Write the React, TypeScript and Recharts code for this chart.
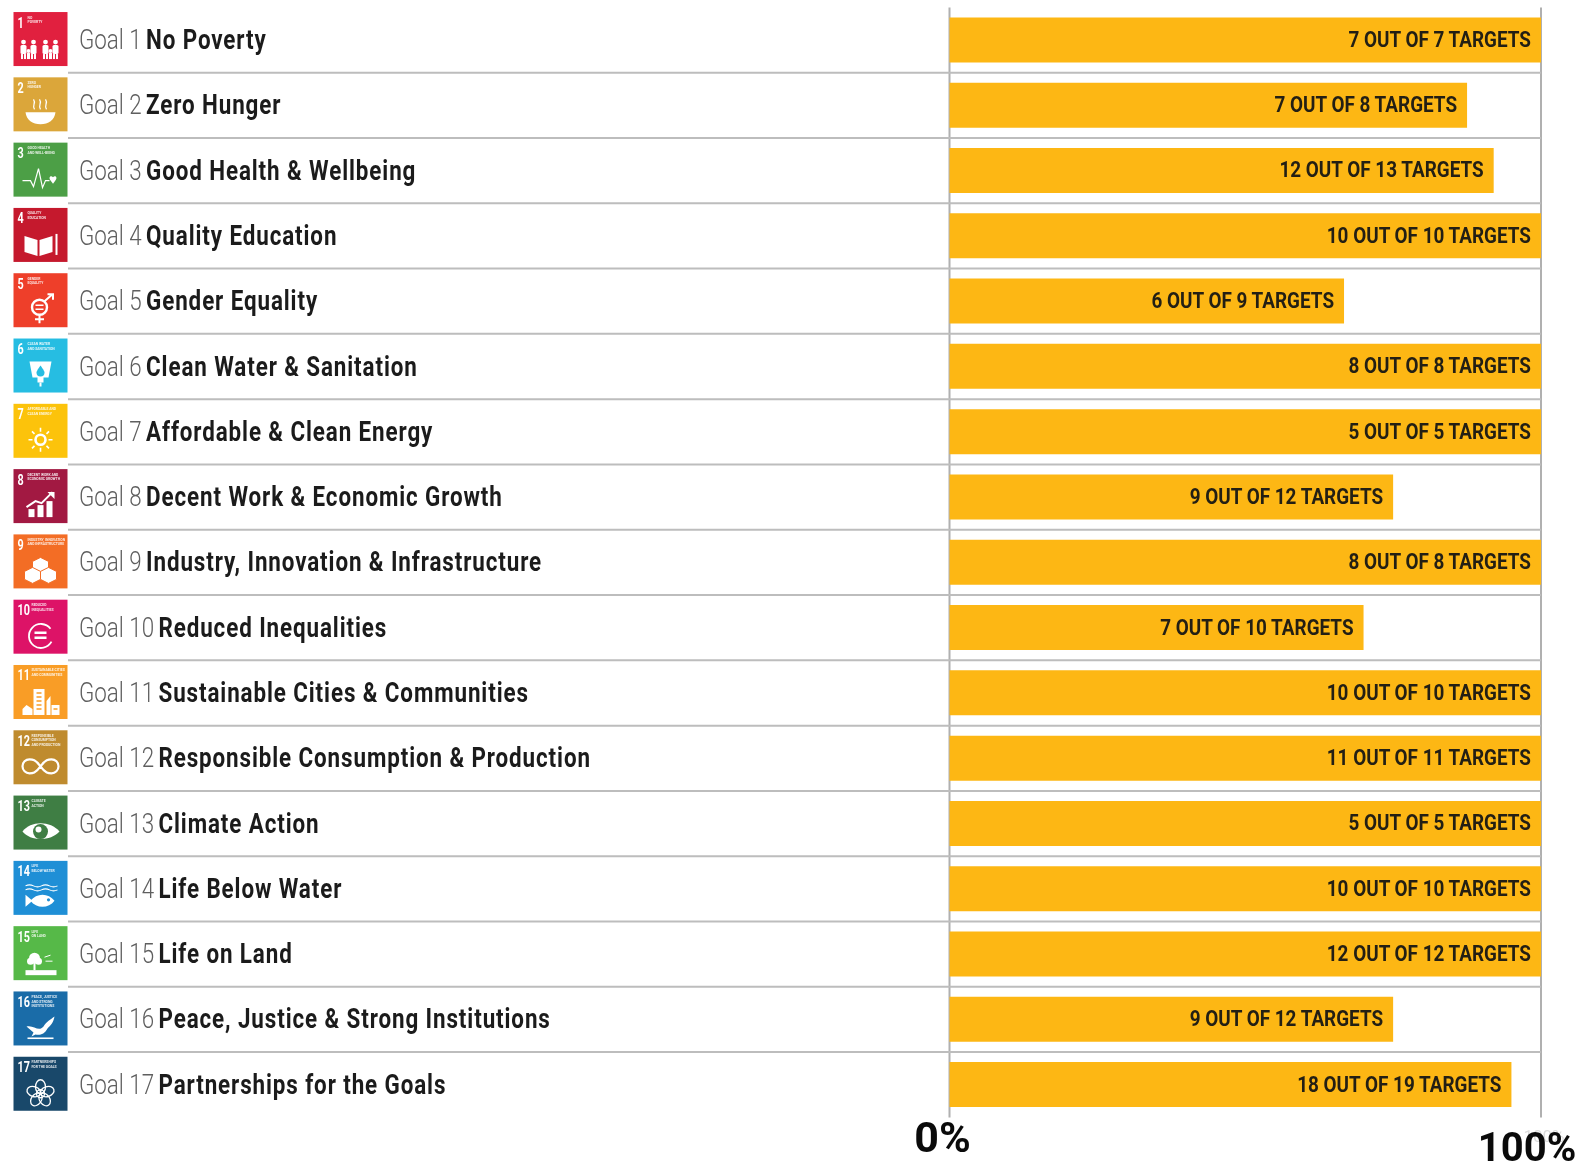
import React from 'react';
import { BarChart, Bar, XAxis, YAxis, CartesianGrid, LabelList } from 'recharts';

const goalNames = [
  'No Poverty',
  'Zero Hunger',
  'Good Health & Wellbeing',
  'Quality Education',
  'Gender Equality',
  'Clean Water & Sanitation',
  'Affordable & Clean Energy',
  'Decent Work & Economic Growth',
  'Industry, Innovation & Infrastructure',
  'Reduced Inequalities',
  'Sustainable Cities & Communities',
  'Responsible Consumption & Production',
  'Climate Action',
  'Life Below Water',
  'Life on Land',
  'Peace, Justice & Strong Institutions',
  'Partnerships for the Goals',
];
// bar lengths, in % of the axis
const shares = [100, 87.5, 92, 100, 66.7, 100, 100, 75, 100, 70, 100, 100, 100, 100, 100, 75, 95];
const targetsMet = [7, 7, 12, 10, 6, 8, 5, 9, 8, 7, 10, 11, 5, 10, 12, 9, 18];
const targetsTotal = [7, 8, 13, 10, 9, 8, 5, 12, 8, 10, 10, 11, 5, 10, 12, 12, 19];
const iconColors = [
  '#E1203F', '#DBA63A', '#4C9F46', '#C5192D', '#EE3F2A', '#26BDE2', '#FCC30B', '#A21942', '#F36D25',
  '#DD1367', '#F99D26', '#BF8B2E', '#3F7E44', '#1F8FD6', '#56B948', '#1A6CA8', '#19486A',
];
const iconCaptions = [
  ['NO', 'POVERTY'],
  ['ZERO', 'HUNGER'],
  ['GOOD HEALTH', 'AND WELL-BEING'],
  ['QUALITY', 'EDUCATION'],
  ['GENDER', 'EQUALITY'],
  ['CLEAN WATER', 'AND SANITATION'],
  ['AFFORDABLE AND', 'CLEAN ENERGY'],
  ['DECENT WORK AND', 'ECONOMIC GROWTH'],
  ['INDUSTRY, INNOVATION', 'AND INFRASTRUCTURE'],
  ['REDUCED', 'INEQUALITIES'],
  ['SUSTAINABLE CITIES', 'AND COMMUNITIES'],
  ['RESPONSIBLE', 'CONSUMPTION', 'AND PRODUCTION'],
  ['CLIMATE', 'ACTION'],
  ['LIFE', 'BELOW WATER'],
  ['LIFE', 'ON LAND'],
  ['PEACE, JUSTICE', 'AND STRONG', 'INSTITUTIONS'],
  ['PARTNERSHIPS', 'FOR THE GOALS'],
];
const axisTicks = [0, 100];

const chartData = goalNames.map((name, i) => ({
  name,
  share: shares[i],
  label: `${targetsMet[i]} OUT OF ${targetsTotal[i]} TARGETS`,
}));

const ROW = 65.3;
const FONT = 'Roboto, "Liberation Sans", sans-serif';

// little white pictogram of each goal, in a 54x54 box
const Glyph = ({ goal }: { goal: number }) => {
  const line = { fill: 'none', stroke: '#fff', strokeWidth: 2 };
  switch (goal) {
    case 0:
      return (
        <g fill="#fff">
          {[8, 18, 30, 40].map((x) => (
            <g key={x}>
              <circle cx={x + 2} cy={30} r={2.4} />
              <rect x={x - 1} y={33} width={6} height={9} rx={1.5} />
              <rect x={x - 0.5} y={42} width={2} height={5} />
              <rect x={x + 2.5} y={42} width={2} height={5} />
            </g>
          ))}
          <circle cx={15} cy={39} r={2} />
          <circle cx={37} cy={39} r={2} />
          <rect x={13.5} y={41} width={3} height={6} />
          <rect x={35.5} y={41} width={3} height={6} />
        </g>
      );
    case 1:
      return (
        <g>
          <path d="M12 35 H42 C41 43 35 47 27 47 C19 47 13 43 12 35 Z" fill="#fff" />
          <path d="M21 32 C18 28 23 26 20 22 M27 32 C24 28 29 26 26 22 M33 32 C30 28 35 26 32 22" {...line} strokeWidth={1.3} />
        </g>
      );
    case 2:
      return (
        <g>
          <path d="M9 38 H17 L20 44 L25 26 L29 45 L32 38 H36" {...line} strokeWidth={1.2} />
          <path d="M38 39 C34 35 37 32 39.5 34.5 C42 32 45 35 41 39 L39.5 41 Z" fill="#fff" />
        </g>
      );
    case 3:
      return (
        <g fill="#fff">
          <path d="M11 28 L24 32 V48 L11 44 Z" />
          <path d="M26 32 L39 28 V44 L26 48 Z" />
          <rect x={42} y={26} width={2} height={21} />
        </g>
      );
    case 4:
      return (
        <g>
          <circle cx={26} cy={34} r={7.5} {...line} strokeWidth={2.4} />
          <path d="M26 42 V50 M21.5 46 H30.5 M31 28 L39 21 M34 21 H39.5 V26.5" {...line} />
          <path d="M22 32 H30 M22 36 H30" {...line} strokeWidth={1.6} />
        </g>
      );
    case 5:
      return (
        <g>
          <path d="M16 23 H38 L35 39 H30 V44 H24 V39 H19 Z" fill="#fff" />
          <path d="M27 27 C24 31 23 33 23 34 A4 4 0 0 0 31 34 C31 33 30 31 27 27 Z" fill="#26BDE2" />
          <rect x={26} y={44} width={2} height={4} fill="#fff" />
        </g>
      );
    case 6:
      return (
        <g>
          <circle cx={27} cy={36} r={5} {...line} strokeWidth={2.6} />
          <path d="M27 24 V28 M27 44 V48 M15 36 H19 M35 36 H39 M18.5 27.5 L21 30 M35.5 27.5 L33 30 M18.5 44.5 L21 42 M35.5 44.5 L33 42" {...line} strokeWidth={1.6} />
        </g>
      );
    case 7:
      return (
        <g fill="#fff">
          <rect x={15} y={40} width={6} height={8} />
          <rect x={24} y={36} width={6} height={12} />
          <rect x={33} y={32} width={6} height={16} />
          <path d="M13 38 L22 32 L28 34 L39 23" {...line} />
          <path d="M34 23 H41 V30 Z" />
        </g>
      );
    case 8:
      return (
        <g fill="#fff" stroke="#F36D25" strokeWidth={1}>
          <path d="M27 23 L35 27 V35 L27 39 L19 35 V27 Z" />
          <path d="M19 33 L27 37 V45 L19 49 L11 45 V37 Z" />
          <path d="M35 33 L43 37 V45 L35 49 L27 45 V37 Z" />
        </g>
      );
    case 9:
      return (
        <g>
          <path d="M37 29 A12 12 0 1 0 38 42" {...line} strokeWidth={1.8} />
          <path d="M21 33 H33 M21 38 H33" {...line} strokeWidth={2.4} />
        </g>
      );
    case 10:
      return (
        <g>
          <g fill="#fff">
            <path d="M9 50 V44 L13 40 L19 44 V50 Z" />
            <rect x={20} y={24} width={11} height={26} />
            <path d="M33 50 V36 L37 31 V50 Z" />
            <rect x={38} y={40} width={8} height={10} />
          </g>
          <path d="M23 28 H28 M23 32 H28 M23 36 H28 M23 40 H28 M23 44 H28 M40 44 H44" stroke={iconColors[10]} strokeWidth={1.4} />
        </g>
      );
    case 11:
      return <path d="M27 36 C22 29 19 29 16 29 A7 7 0 0 0 16 43 C19 43 22 43 27 36 C32 29 35 29 38 29 A7 7 0 0 1 38 43 C35 43 32 43 27 36 Z" {...line} strokeWidth={2.2} />;
    case 12:
      return (
        <g>
          <path d="M9 36 C17 25 37 25 46 36 C37 46 17 46 9 36 Z" fill="#fff" />
          <circle cx={27} cy={36} r={7.5} fill="#3F7E44" />
          <circle cx={25} cy={34} r={3} fill="#fff" />
        </g>
      );
    case 13:
      return (
        <g>
          <path d="M12 25 Q16 23 20 25 T28 25 T36 25 T44 25 M12 29 Q16 27 20 29 T28 29 T36 29 T44 29" {...line} strokeWidth={1.1} />
          <path d="M17 40 C23 32 35 32 41 40 C35 48 23 48 17 40 Z M12 34 L19 40 L12 46 Z" fill="#fff" />
          <circle cx={35} cy={39} r={1.6} fill="#1F8FD6" />
        </g>
      );
    case 14:
      return (
        <g fill="#fff">
          <circle cx={21} cy={32} r={5.5} />
          <circle cx={17} cy={35} r={3.5} />
          <circle cx={25} cy={35} r={3.5} />
          <rect x={20} y={36} width={2} height={8} />
          <path d="M12 44 H43 V49 H12 Z" />
          <path d="M31 31 L37 29 M32 35 H39" {...line} strokeWidth={1} />
        </g>
      );
    case 15:
      return (
        <g fill="#fff">
          <path d="M13 35 C20 33 25 41 30 35 C33 30 37 28 41 25 C40 31 37 34 34 37 C31 43 26 44 22 43 L18 45 L20 41 Z" />
          <rect x={14} y={46} width={26} height={1.6} />
        </g>
      );
    default:
      return (
        <g {...line} strokeWidth={1.3}>
          {[0, 72, 144, 216, 288].map((a) => (
            <ellipse key={a} cx={27} cy={30} rx={5} ry={7} transform={`rotate(${a} 27 37)`} />
          ))}
          <circle cx={27} cy={37} r={4} />
        </g>
      );
  }
};

const GoalTick = ({ y, index }: any) => {
  const caption = iconCaptions[index];
  const num = String(index + 1);
  const top = y - 28;
  return (
    <g>
      {index < goalNames.length - 1 && (
        <line x1={68} x2={1541} y1={y + ROW / 2} y2={y + ROW / 2} stroke="#bdbdbd" strokeWidth={2} />
      )}
      <g transform={`translate(13.5 ${top})`}>
        <rect width={54} height={54} fill={iconColors[index]} />
        <text transform="translate(4 15.5) scale(0.72 1)" fill="#fff" fontFamily={FONT} fontWeight={700} fontSize={15}>
          {num}
        </text>
        {caption.map((t, i) => (
          <text key={t} x={num.length > 1 ? 18 : 14} y={6.5 + i * 4.6} fill="#fff" fillOpacity={0.85} fontFamily={FONT} fontWeight={700} fontSize={3.4}>
            {t}
          </text>
        ))}
        <Glyph goal={index} />
      </g>
      <text transform={`translate(79 ${y + 9}) scale(0.8 1)`} fontFamily={FONT} fontSize={28}>
        <tspan fill="#5f5f5f" fontWeight={300}>{`Goal ${index + 1} `}</tspan>
        <tspan fill="#1b1b1b" fontWeight={700} letterSpacing={1.12} dx={-1.5}>{goalNames[index]}</tspan>
      </text>
    </g>
  );
};

const PercentTick = ({ x, payload }: any) => {
  if (payload.value === 0) {
    return (
      <text x={x - 7} y={1152} textAnchor="middle" fill="#0a0a0a" fontFamily={FONT} fontWeight={700} fontSize={43}>
        0%
      </text>
    );
  }
  return (
    <g>
      <text x={x + 3} y={1142} textAnchor="middle" fill="#dcdcdc" fontFamily={FONT} fontSize={17}>
        100%
      </text>
      <text x={x - 14} y={1161} textAnchor="middle" fill="#0a0a0a" fontFamily={FONT} fontWeight={700} fontSize={40}>
        100%
      </text>
    </g>
  );
};

const BarLabel = ({ x, y, width, height, value }: any) => (
  <text
    transform={`translate(${x + width - 10} ${y + height / 2 + 7}) scale(0.86 1)`}
    textAnchor="end"
    fill="#231f14"
    fontFamily={FONT}
    fontWeight={700}
    fontSize={22}
  >
    {value}
  </text>
);

export default function App() {
  return (
    <div style={{ position: 'absolute', left: 0, top: 0, width: 1581, height: 1165, background: '#fff', filter: 'blur(0.5px)' }}>
      <BarChart
        width={1581}
        height={1165}
        data={chartData}
        layout="vertical"
        margin={{ top: 7.4, right: 40, bottom: 0, left: 0 }}
        barCategoryGap={0}
      >
        <CartesianGrid horizontal={false} stroke="#b0b0b0" strokeWidth={2} />
        <XAxis
          type="number"
          domain={[0, 100]}
          ticks={axisTicks}
          height={47.6}
          axisLine={false}
          tickLine={false}
          interval={0}
          tick={<PercentTick />}
        />
        <YAxis
          type="category"
          dataKey="name"
          width={949.5}
          axisLine={false}
          tickLine={false}
          interval={0}
          tick={<GoalTick />}
        />
        <Bar dataKey="share" fill="#FDB714" barSize={45} isAnimationActive={false}>
          <LabelList dataKey="label" content={<BarLabel />} />
        </Bar>
      </BarChart>
    </div>
  );
}
